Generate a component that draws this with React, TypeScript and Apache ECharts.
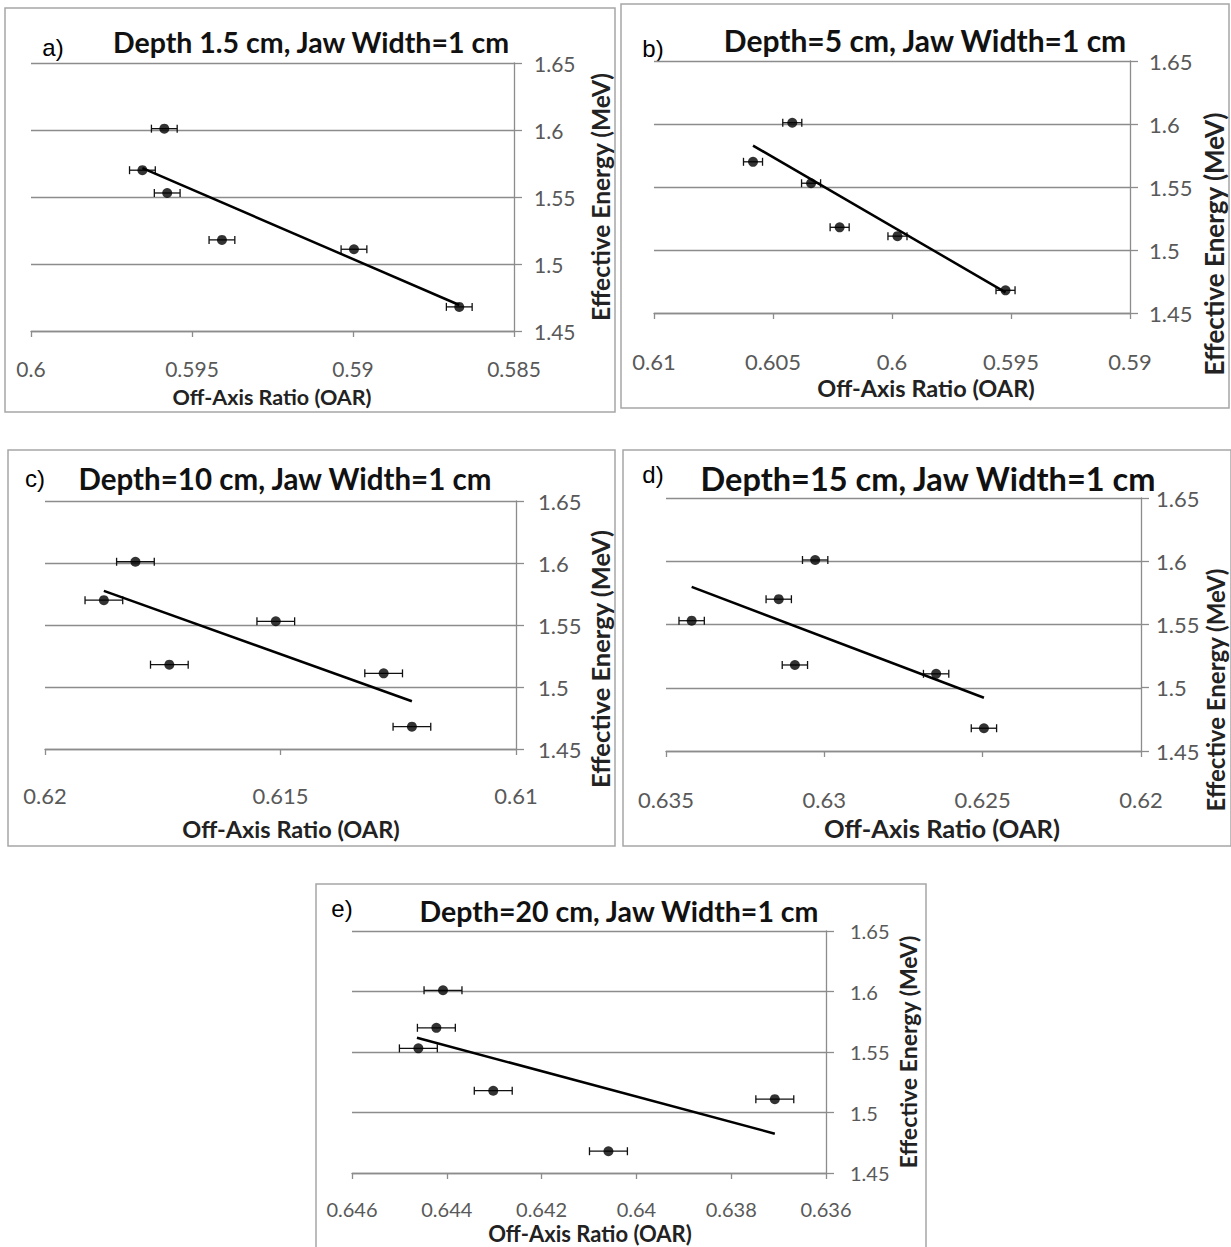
import React, { useEffect, useRef } from "react";
import * as echarts from "echarts";

// Shared measured effective energies (MeV) for the six points
const energy = [1.601, 1.57, 1.553, 1.518, 1.511, 1.468];

// Off-axis ratios per panel (same order as energy)
const oarA = [0.59586, 0.59654, 0.59577, 0.59407, 0.58997, 0.5867];
const oarB = [0.60419, 0.60584, 0.6034, 0.6022, 0.59977, 0.59523];
const oarC = [0.61808, 0.61875, 0.6151, 0.61736, 0.61281, 0.61221];
const oarD = [0.63029, 0.63144, 0.63419, 0.63093, 0.62647, 0.62496];
const oarE = [0.64408, 0.64422, 0.6446, 0.64302, 0.63708, 0.64059];

// Horizontal error (OAR) per point
const errA = [0.0004, 0.0004, 0.0004, 0.0004, 0.0004, 0.0004];
const errB = [0.0004, 0.0004, 0.0004, 0.0004, 0.0004, 0.0004];
const errC = [0.0004, 0.0004, 0.0004, 0.0004, 0.0004, 0.0004];
const errD = [0.0004, 0.0004, 0.0004, 0.0004, 0.0004, 0.0004];
const errE = [0.0004, 0.0004, 0.0004, 0.0004, 0.0004, 0.0004];

// Trendline endpoints
const trendOarA = [0.59654, 0.5867];
const trendEA = [1.5716, 1.4694];
const trendOarB = [0.60584, 0.59523];
const trendEB = [1.5829, 1.4664];
const trendOarC = [0.61875, 0.61221];
const trendEC = [1.5775, 1.4885];
const trendOarD = [0.63419, 0.62496];
const trendED = [1.5797, 1.4921];
const trendOarE = [0.64463, 0.63708];
const trendEE = [1.5618, 1.4825];

// Axis ranges
const xMin = [0.585, 0.59, 0.61, 0.62, 0.636];
const xMax = [0.6, 0.61, 0.62, 0.635, 0.646];
const xStep = [0.005, 0.005, 0.005, 0.005, 0.002];
const yMin = 1.45;
const yMax = 1.65;
const yStep = 0.05;

const titles = [
  "Depth 1.5 cm, Jaw Width=1 cm",
  "Depth=5 cm, Jaw Width=1 cm",
  "Depth=10 cm, Jaw Width=1 cm",
  "Depth=15 cm, Jaw Width=1 cm",
  "Depth=20 cm, Jaw Width=1 cm",
];
const letters = ["a)", "b)", "c)", "d)", "e)"];
const xTitle = "Off-Axis Ratio (OAR)";
const yTitle = "Effective Energy (MeV)";

const panels = [
  { oar: oarA, err: errA, tx: trendOarA, ty: trendEA },
  { oar: oarB, err: errB, tx: trendOarB, ty: trendEB },
  { oar: oarC, err: errC, tx: trendOarC, ty: trendEC },
  { oar: oarD, err: errD, tx: trendOarD, ty: trendED },
  { oar: oarE, err: errE, tx: trendOarE, ty: trendEE },
];

// Layout (pixels)
const gridBoxes = [
  { left: 31, top: 63, width: 483, height: 268 },
  { left: 654, top: 61, width: 476, height: 252 },
  { left: 45, top: 501, width: 471, height: 248 },
  { left: 666, top: 498, width: 475, height: 253 },
  { left: 352, top: 931, width: 474, height: 242 },
];
const borders = [
  { x: 5, y: 8, w: 610, h: 404 },
  { x: 621, y: 4, w: 608, h: 404 },
  { x: 8, y: 450, w: 607, h: 396 },
  { x: 623, y: 450, w: 608, h: 396 },
  { x: 316, y: 884, w: 610, h: 380 },
];
const titlePos = [
  { x: 311, y: 42, size: 28.5 },
  { x: 925, y: 40, size: 30 },
  { x: 285, y: 478, size: 29.5 },
  { x: 928, y: 478, size: 32.5 },
  { x: 619, y: 911, size: 28.5 },
];
const letterPos = [
  { x: 53, y: 47 },
  { x: 653, y: 48 },
  { x: 35, y: 478 },
  { x: 653, y: 474 },
  { x: 342, y: 908 },
];
const xTitlePos = [
  { x: 272, y: 397, size: 21.5 },
  { x: 926, y: 388, size: 23.5 },
  { x: 291, y: 829, size: 23.5 },
  { x: 942, y: 828, size: 25.5 },
  { x: 590, y: 1233, size: 22 },
];
const yTitlePos = [
  { x: 600, y: 197, size: 24.5 },
  { x: 1214, y: 244, size: 26 },
  { x: 600, y: 659, size: 25.5 },
  { x: 1215, y: 690, size: 24 },
  { x: 908, y: 1052, size: 23 },
];
const xLabelMargin = [27, 37, 35, 37, 26];
const yLabelMargin = [20, 19, 22, 15, 24];
const tickFont = [21, 22, 22, 22, 20];

const fmt = (v: number) => String(parseFloat(v.toFixed(4)));

export default function App() {
  const ref = useRef<HTMLDivElement>(null);
  useEffect(() => {
    if (!ref.current) return;
    const chart = echarts.init(ref.current, undefined, { renderer: "svg" });

    const grids: any[] = [];
    const xAxes: any[] = [];
    const yAxes: any[] = [];
    const series: any[] = [];
    const graphics: any[] = [];

    panels.forEach((p, i) => {
      grids.push({ ...gridBoxes[i], containLabel: false });
      xAxes.push({
        type: "value",
        gridIndex: i,
        min: xMin[i],
        max: xMax[i],
        interval: xStep[i],
        inverse: true,
        axisLine: { show: true, onZero: false, lineStyle: { color: "#8c8c8c", width: 1.3 } },
        axisTick: { show: true, length: 6, lineStyle: { color: "#8c8c8c", width: 1.3 } },
        splitLine: { show: false },
        axisLabel: {
          margin: xLabelMargin[i],
          color: "#595959",
          fontFamily: "Lato",
          fontSize: tickFont[i],
          formatter: fmt,
        },
      });
      yAxes.push({
        type: "value",
        gridIndex: i,
        position: "right",
        min: yMin,
        max: yMax,
        interval: yStep,
        axisLine: { show: true, lineStyle: { color: "#8c8c8c", width: 1.3 } },
        axisTick: { show: true, length: 8, lineStyle: { color: "#8c8c8c", width: 1.3 } },
        splitLine: { show: true, lineStyle: { color: "#8c8c8c", width: 1.3 } },
        axisLabel: {
          margin: yLabelMargin[i],
          color: "#595959",
          fontFamily: "Lato",
          fontSize: tickFont[i],
          formatter: fmt,
        },
      });

      const pts = p.oar.map((x, k) => [x, energy[k], p.err[k]]);
      series.push({
        type: "custom",
        xAxisIndex: i,
        yAxisIndex: i,
        data: pts,
        encode: { x: 0, y: 1 },
        clip: false,
        renderItem: (_params: any, api: any) => {
          const x = api.value(0);
          const y = api.value(1);
          const e = api.value(2);
          const a = api.coord([x - e, y]);
          const b = api.coord([x + e, y]);
          const cap = 4;
          const st = { stroke: "#111", lineWidth: 1.3 };
          return {
            type: "group",
            children: [
              { type: "line", shape: { x1: a[0], y1: a[1], x2: b[0], y2: b[1] }, style: st },
              { type: "line", shape: { x1: a[0], y1: a[1] - cap, x2: a[0], y2: a[1] + cap }, style: st },
              { type: "line", shape: { x1: b[0], y1: b[1] - cap, x2: b[0], y2: b[1] + cap }, style: st },
            ],
          };
        },
        z: 3,
      });
      series.push({
        type: "scatter",
        xAxisIndex: i,
        yAxisIndex: i,
        data: p.oar.map((x, k) => [x, energy[k]]),
        symbol: "circle",
        symbolSize: 10,
        itemStyle: { color: "#000" },
        z: 4,
      });
      series.push({
        type: "line",
        xAxisIndex: i,
        yAxisIndex: i,
        data: p.tx.map((x, k) => [x, p.ty[k]]),
        symbol: "none",
        lineStyle: { color: "#000", width: 2.5 },
        z: 5,
      });

      const bd = borders[i];
      graphics.push({
        type: "rect",
        shape: { x: bd.x, y: bd.y, width: bd.w, height: bd.h },
        style: { fill: "none", stroke: "#a6a6a6", lineWidth: 1.5 },
        z: 0,
      });
      graphics.push({
        type: "text",
        x: titlePos[i].x,
        y: titlePos[i].y,
        style: {
          text: titles[i],
          align: "center",
          verticalAlign: "middle",
          fontFamily: "Lato",
          fontWeight: "bold",
          fontSize: titlePos[i].size,
          fill: "#111",
        },
      });
      graphics.push({
        type: "text",
        x: letterPos[i].x,
        y: letterPos[i].y,
        style: {
          text: letters[i],
          align: "center",
          verticalAlign: "middle",
          fontFamily: "Liberation Sans",
          fontSize: 24,
          fill: "#000",
        },
      });
      graphics.push({
        type: "text",
        x: xTitlePos[i].x,
        y: xTitlePos[i].y,
        style: {
          text: xTitle,
          align: "center",
          verticalAlign: "middle",
          fontFamily: "Lato",
          fontWeight: "bold",
          fontSize: xTitlePos[i].size,
          fill: "#222",
        },
      });
      graphics.push({
        type: "text",
        x: yTitlePos[i].x,
        y: yTitlePos[i].y,
        rotation: Math.PI / 2,
        style: {
          text: yTitle,
          align: "center",
          verticalAlign: "middle",
          fontFamily: "Lato",
          fontWeight: "bold",
          fontSize: yTitlePos[i].size,
          fill: "#222",
        },
      });
    });

    chart.setOption({
      animation: false,
      backgroundColor: "#fff",
      grid: grids,
      xAxis: xAxes,
      yAxis: yAxes,
      series,
      graphic: graphics,
    });
    return () => chart.dispose();
  }, []);

  return (
    <div
      ref={ref}
      style={{ position: "absolute", left: 0, top: 0, width: 1231, height: 1247 }}
    />
  );
}
